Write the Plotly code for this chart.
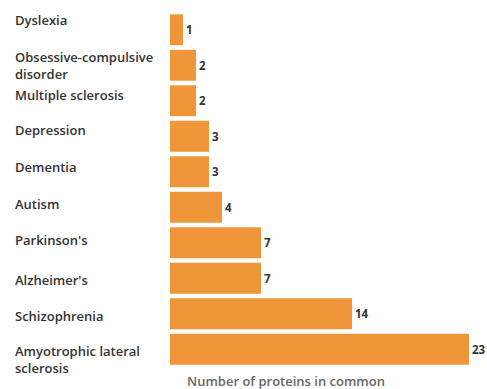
import plotly.graph_objects as go

diseases = ["Dyslexia", "Obsessive-compulsive<br>disorder", "Multiple sclerosis", "Depression",
            "Dementia", "Autism", "Parkinson's", "Alzheimer's", "Schizophrenia",
            "Amyotrophic lateral<br>sclerosis"]
proteins = [1, 2, 2, 3, 3, 4, 7, 7, 14, 23]
label_shift = [10, 0, 6, 6, 5, 3.5, 2.5, -1.5, -2.5, -10]

W, H = 487, 389
ML, MR, MT, MB = 170, 0, 12, 22
PW = W - ML - MR

fig = go.Figure(go.Bar(
    x=proteins, y=diseases, orientation="h",
    marker=dict(color="#F0963A", line=dict(width=0)),
    text=[str(v) for v in proteins], textposition="outside",
    textfont=dict(family="Open Sans", size=11.5, color="#333333", weight="bold"),
    cliponaxis=False,
))

annotations = []
for d, s in zip(diseases, label_shift):
    annotations.append(dict(
        x=(13 - ML) / PW, xref="paper", y=d, yref="y", xanchor="left", yanchor="middle",
        text=d, showarrow=False, align="left", yshift=s,
        font=dict(family="Open Sans", size=13, color="#333333", weight=600),
    ))
annotations.append(dict(
    x=(286 - ML) / PW, xref="paper", y=0, yref="paper", yshift=-14, xanchor="center", yanchor="middle",
    text="Number of proteins in common", showarrow=False,
    font=dict(family="Open Sans", size=13, color="#666666", weight=600),
))

fig.update_layout(
    width=W, height=H,
    margin=dict(l=ML, r=MR, t=MT, b=MB),
    paper_bgcolor="white", plot_bgcolor="white",
    bargap=0.13,
    showlegend=False,
    xaxis=dict(range=[0, PW / 13.0], showgrid=False, zeroline=False, showticklabels=False,
               showline=False, ticks=""),
    yaxis=dict(autorange="reversed", showticklabels=False, showgrid=False, zeroline=False,
               showline=False, ticks=""),
    annotations=annotations,
)

fig.write_html("out.html")
